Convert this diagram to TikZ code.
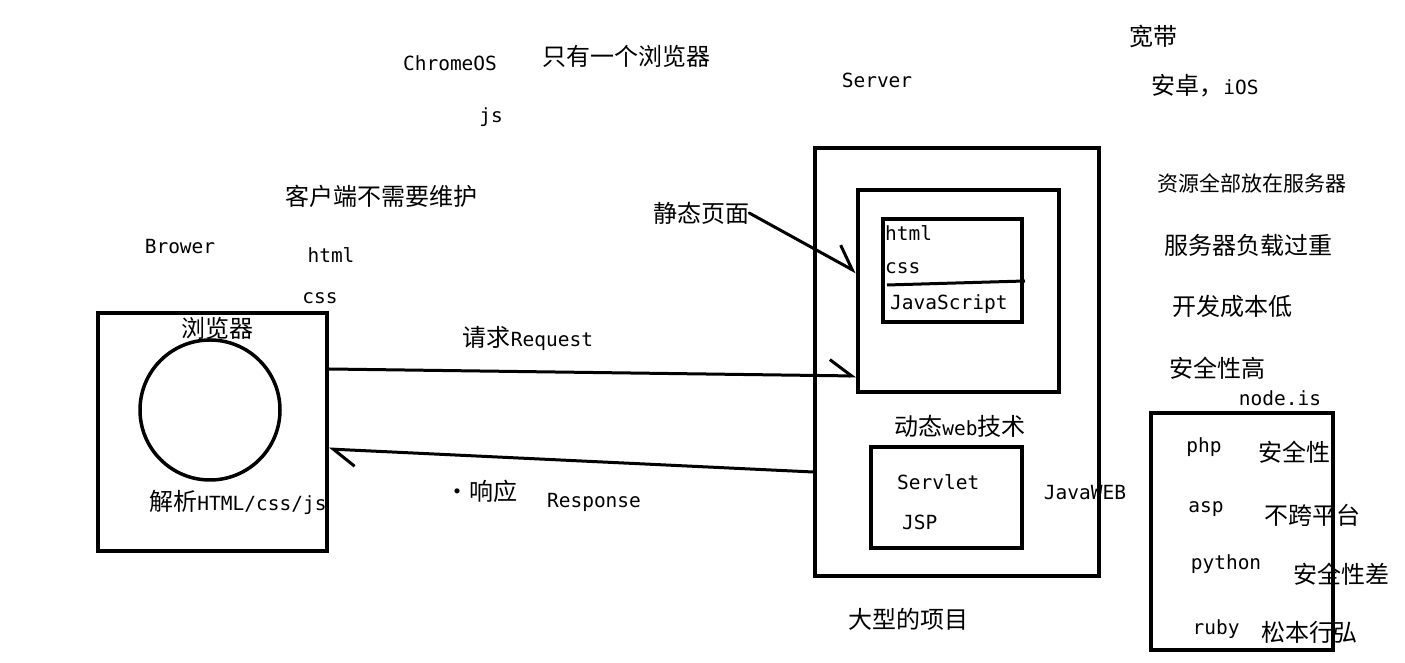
\documentclass[tikz,border=0pt]{standalone}
\usepackage{fontspec}
\setmainfont{Noto Sans CJK SC}
\newfontfamily\latfont{DejaVu Sans Mono}
\usepackage{tikz}
\usetikzlibrary{positioning, arrows.meta}
\tikzset{
	frame/.style 2 args={
		draw, % Draw a border
		rectangle, % Shape of the node
		line width=3.5pt, % Thick hand drawn border
		minimum width=#1, % Width of the node
		minimum height=#2, % Height of the node
		inner sep=0pt
	},
	zh/.style={font=\fontsize{24}{28}\selectfont, inner sep=0pt},
	en/.style={font=\fontsize{19.5}{23}\selectfont\latfont, inner sep=0pt},
	link/.style={line width=3pt, line cap=round,
		-{Straight Barb[harpoon, length=22pt, width=32pt, line width=3pt]}}
}

\begin{document}
\begin{tikzpicture}[x=1pt, y=1pt]
	\useasboundingbox (0,0) rectangle (1405,663);
	
	% client side
	\node[zh] (parse) at (238,161) {解析{\fontsize{19.5}{23}\selectfont\latfont HTML/css/js}};
	\node[frame={229pt}{238pt}] (browser) at (212.5,231) {};
	\node[draw, circle, line width=3.5pt, minimum size=140pt] (engine) at (210,253) {};
	\node[zh] (browsername) at (217,335) {浏览器};
	\node[en] (brower) at (180,416) {Brower};
	\node[en] (html) at (331,408) {html};
	\node[en] (css) at (320,365) {css};
	\node[zh] (nomaint) at (381,467) {客户端不需要维护};
	\node[en] (chromeos) at (450,600) {ChromeOS};
	\node[zh] (onebrowser) at (626,607) {只有一个浏览器};
	\node[en] (js) at (491,546) {js};
	
	% server side
	\node[en] (server) at (877,583) {Server};
	\node[frame={284pt}{428pt}] (host) at (957,301) {};
	\node[frame={201pt}{202pt}] (static) at (958.5,372) {};
	\node[frame={139pt}{103pt}] (core) at (952.5,392.5) {};
	\node[en, anchor=west] (corehtml) at (885,430) {html};
	\node[en, anchor=west] (corecss) at (885,395) {css};
	\node[en, anchor=west] (corejs) at (890,359) {JavaScript};
	\draw[line width=3pt] (887,378) -- (1025,382);
	\node[zh] (staticlabel) at (701,450) {静态页面};
	\draw[link] (staticlabel.east) -- (static.west |- 0,391);
	
	\node[zh] (dynamic) at (960,237) {动态{\fontsize{19.5}{23}\selectfont\latfont web}技术};
	\node[frame={151pt}{101pt}] (servlets) at (946.5,165.5) {};
	\node[en, anchor=west] (servlet) at (897,181) {Servlet};
	\node[en, anchor=west] (jsp) at (902,141) {JSP};
	\node[en] (javaweb) at (1085,170) {JavaWEB};
	\node[zh] (bigproject) at (908,44) {大型的项目};
	
	% request and response
	\draw[link] (browser.east |- 0,294) -- (static.west |- 0,287);
	\node[zh] (request) at (528,325) {请求{\fontsize{19.5}{23}\selectfont\latfont Request}};
	\draw[link] (host.west |- 0,191) -- (browser.east |- 0,214);
	\node[zh] (respond) at (481,172) {·响应};
	\node[en] (response) at (594,161) {Response};
	
	% notes on the right
	\node[zh] (broadband) at (1153,627) {宽带};
	\node[zh] (mobile) at (1205,577) {安卓，{\fontsize{19.5}{23}\selectfont\latfont iOS}};
	\node[zh, font=\fontsize{21}{25}\selectfont] (allserver) at (1252,480) {资源全部放在服务器};
	\node[zh] (overload) at (1248,418) {服务器负载过重};
	\node[zh] (lowcost) at (1232,357) {开发成本低};
	\node[zh] (secure) at (1217,295) {安全性高};
	\node[en] (nodejs) at (1280,265) {node.is};
	\node[frame={182pt}{237pt}] (langs) at (1242,131.5) {};
	\node[en] (php) at (1204,216) {php};
	\node[zh] (phpnote) at (1294,211) {安全性};
	\node[en] (asp) at (1206,154) {asp};
	\node[zh] (aspnote) at (1312,148) {不跨平台};
	\node[en] (python) at (1226,99) {python};
	\node[zh] (pythonnote) at (1341,89) {安全性差};
	\node[en] (ruby) at (1216,34) {ruby};
	\node[zh] (rubynote) at (1309,31) {松本行弘};
	
\end{tikzpicture}
\end{document}
